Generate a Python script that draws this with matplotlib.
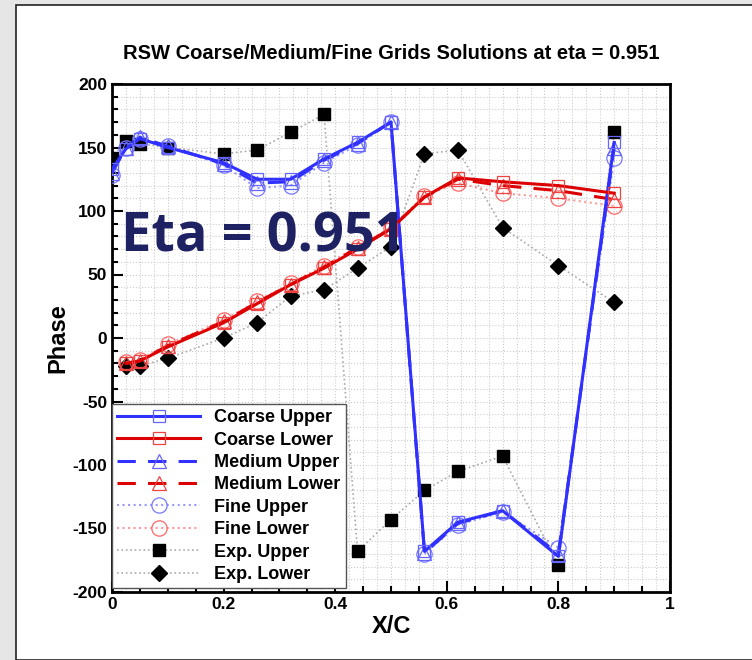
import matplotlib
matplotlib.use('Agg')
import matplotlib.pyplot as plt
from matplotlib.patches import Rectangle
from matplotlib.ticker import MultipleLocator, FuncFormatter
import numpy as np

plt.rcParams['font.family'] = ['Liberation Sans', 'DejaVu Sans']
plt.rcParams['font.weight'] = 'bold'
plt.rcParams['axes.unicode_minus'] = False

# ---- data ----
x_up = [0.0, 0.025, 0.05, 0.1, 0.2, 0.26, 0.32, 0.38, 0.44, 0.5, 0.56, 0.62, 0.70, 0.80, 0.90]
coarse_up = [133, 149, 157, 150, 138, 125, 125, 141, 154, 170, -168, -145, -136, -172, 154]
medium_up = [130, 150, 158, 151, 137, 122, 123, 140, 153, 170, -169, -146, -136, -170, 150]
fine_up = [128, 150, 157, 151, 136, 118, 120, 138, 152, 170, -170, -147, -137, -165, 142]

x_lo = [0.025, 0.05, 0.1, 0.2, 0.26, 0.32, 0.38, 0.44, 0.5, 0.56, 0.62, 0.70, 0.80, 0.90]
coarse_lo = [-20, -18, -7, 12, 27, 42, 55, 70, 86, 111, 126, 123, 120, 114]
medium_lo = [-20, -18, -6, 13, 28, 42, 56, 71, 86, 111, 125, 120, 116, 109]
fine_lo = [-19, -17, -5, 14, 29, 43, 57, 72, 87, 112, 122, 114, 110, 104]

x_exp_up = [0.0, 0.025, 0.05, 0.1, 0.2, 0.26, 0.32, 0.38, 0.44, 0.5, 0.56, 0.62, 0.70, 0.80, 0.90]
exp_up = [142, 155, 153, 150, 145, 148, 162, 176, -168, -143, -120, -105, -93, -179, 162]
x_exp_lo = [0.025, 0.05, 0.1, 0.2, 0.26, 0.32, 0.38, 0.44, 0.5, 0.56, 0.62, 0.70, 0.80, 0.90]
exp_lo = [-22, -22, -16, 0, 12, 33, 38, 55, 72, 145, 148, 87, 57, 28]

BLUE = '#3030ff'
RED = '#dd0000'

fig = plt.figure(figsize=(7.52, 6.60), dpi=100, facecolor='#e6e6e6')
# white slide panel behind the plot
panel = Rectangle((16 / 752, 0), 1, 1 - 5 / 660, transform=fig.transFigure,
                  facecolor='white', edgecolor='#222222', lw=1.2, zorder=-5)
fig.patches.append(panel)

ax = fig.add_axes([112 / 752, 1 - 592 / 660, 558 / 752, 508 / 660])
ax.set_xlim(0, 1)
ax.set_ylim(-200, 200)

# grid
ax.xaxis.set_major_locator(MultipleLocator(0.2))
ax.xaxis.set_minor_locator(MultipleLocator(0.05))
ax.yaxis.set_major_locator(MultipleLocator(50))
ax.yaxis.set_minor_locator(MultipleLocator(10))
ax.xaxis.set_major_formatter(FuncFormatter(lambda v, p: f'{v:g}'))
ax.yaxis.set_major_formatter(FuncFormatter(lambda v, p: f'{v:g}'))
ax.grid(which='both', linestyle=':', color='#cccccc', lw=0.8)
for gx in np.arange(0.025, 1, 0.05):
    ax.axvline(gx, linestyle=':', color='#cccccc', lw=0.8, zorder=0.5)
ax.set_axisbelow(True)

# experiment
ax.plot(x_exp_up, exp_up, linestyle=':', color='#aaaaaa', lw=1.2, marker='s',
        ms=8, mfc='black', mec='black', label='Exp. Upper', zorder=3)
ax.plot(x_exp_lo, exp_lo, linestyle=':', color='#aaaaaa', lw=1.2, marker='D',
        ms=8, mfc='black', mec='black', label='Exp. Lower', zorder=3)

# fine
ax.plot(x_up, fine_up, linestyle=':', color='#9999ff', lw=1.5, marker='o', ms=11,
        mfc='none', mec='#7777ff', mew=0.9, label='Fine Upper', zorder=4)
ax.plot(x_lo, fine_lo, linestyle=':', color='#ff9999', lw=1.5, marker='o', ms=11,
        mfc='none', mec='#ff6666', mew=0.9, label='Fine Lower', zorder=4)

# medium
ax.plot(x_up, medium_up, linestyle=(0, (6, 4)), color=BLUE, lw=2.2, marker='^', ms=10,
        mfc='none', mec='#6666ff', mew=0.9, label='Medium Upper', zorder=5)
ax.plot(x_lo, medium_lo, linestyle=(0, (6, 4)), color=RED, lw=2.2, marker='^', ms=10,
        mfc='none', mec='#ee4444', mew=0.9, label='Medium Lower', zorder=5)

# coarse
ax.plot(x_up, coarse_up, linestyle='-', color=BLUE, lw=2.2, marker='s', ms=9,
        mfc='none', mec='#6666ff', mew=0.9, label='Coarse Upper', zorder=6)
ax.plot(x_lo, coarse_lo, linestyle='-', color=RED, lw=2.2, marker='s', ms=9,
        mfc='none', mec='#ee4444', mew=0.9, label='Coarse Lower', zorder=6)

handles, labels = ax.get_legend_handles_labels()
order = ['Coarse Upper', 'Coarse Lower', 'Medium Upper', 'Medium Lower',
         'Fine Upper', 'Fine Lower', 'Exp. Upper', 'Exp. Lower']
hmap = dict(zip(labels, handles))
leg = ax.legend([hmap[k] for k in order], order, loc='lower left',
                bbox_to_anchor=(0, 0.007), fancybox=False, framealpha=1,
                edgecolor='#555555', handlelength=4.6, handletextpad=0.75,
                borderaxespad=0, borderpad=0.3, labelspacing=0.3,
                prop={'weight': 'bold', 'size': 13})
leg.get_frame().set_linewidth(1.0)
leg.set_zorder(10)

for s in ax.spines.values():
    s.set_linewidth(2)
ax.tick_params(which='both', direction='in', top=False, right=False, width=1.5)
ax.tick_params(which='major', length=8, labelsize=12.5)
ax.tick_params(which='minor', length=4)
for t in ax.get_xticklabels() + ax.get_yticklabels():
    t.set_fontweight('bold')

ax.set_xlabel('X/C', fontsize=17, fontweight='bold', labelpad=2)
ax.set_ylabel('Phase', fontsize=17, fontweight='bold', labelpad=2)
ax.set_title('RSW Coarse/Medium/Fine Grids Solutions at eta = 0.951',
             fontsize=14.5, fontweight='bold', pad=18)

fig.text(263 / 752, 1 - 237 / 660, 'Eta = 0.951', fontsize=39, fontweight='bold',
         color='#1f2262', ha='center', va='center',
         family=['Open Sans', 'DejaVu Sans'], zorder=20)

fig.savefig('out.png', dpi=100, facecolor=fig.get_facecolor())
